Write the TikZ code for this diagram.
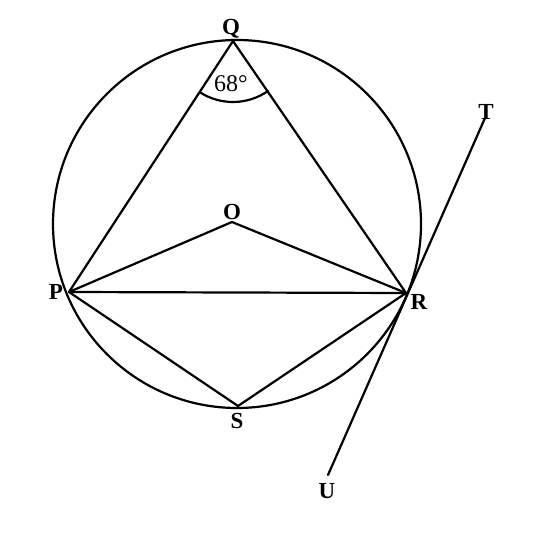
\documentclass[tikz,border=0pt]{standalone}
\usepackage{fontspec}
\setmainfont{Liberation Serif}
\begin{document}
\begin{tikzpicture}[x=1pt,y=-1pt,
  geo/.style={line width=2.2pt, line cap=round, line join=round},
  lbl/.style={font=\fontsize{23}{23}\selectfont\bfseries, inner sep=0pt}]
\useasboundingbox (0,0) rectangle (545,532);
\coordinate (C) at (237,224);
\coordinate (Q) at (233,41);
\coordinate (P) at (69,292);
\coordinate (R) at (406,293);
\coordinate (O) at (232,222);
\coordinate (S) at (238,406);
\coordinate (T) at (485,118);
\coordinate (U) at (328,475);
\draw[geo] (C) circle (184);
\draw[geo] (P) -- (Q) -- (R);
\draw[geo] (P) -- (O) -- (R);
\draw[geo] (P) -- (R);
\draw[geo] (P) -- (S) -- (R);
\draw[geo] (T) -- (U);
% angle arc at Q
\draw[geo] (Q) ++(123:61) arc[start angle=123, end angle=55, radius=61];
\node[font=\fontsize{24}{24}\selectfont, inner sep=0pt] (ang) at (231,84) {68°};
\node[lbl] (lQ) at (231,29) {Q};
\node[lbl] (lP) at (56,292) {P};
\node[lbl] (lR) at (419,302) {R};
\node[lbl] (lO) at (232,212) {O};
\node[lbl] (lS) at (237,421) {S};
\node[lbl] (lT) at (486,112) {T};
\node[lbl] (lU) at (327,491) {U};
\end{tikzpicture}
\end{document}
